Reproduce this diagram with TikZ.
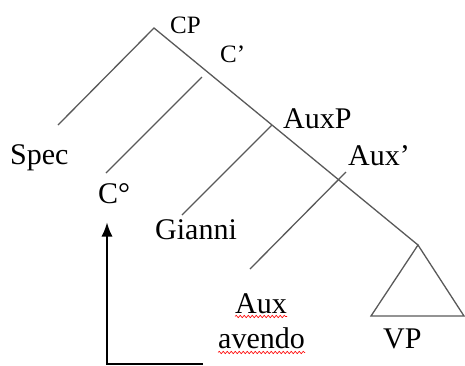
\documentclass[tikz,border=0pt]{standalone}
\usepackage{fontspec}
\setmainfont{Liberation Serif}
\usetikzlibrary{arrows.meta,decorations.pathmorphing}
\begin{document}
\begin{tikzpicture}[x=1pt,y=-1pt,
    branch/.style={color=black!65, line width=1.3pt},
    lbl/.style={anchor=base west, inner sep=0pt, font=\fontsize{30}{34}\selectfont},
    smalllbl/.style={lbl, font=\fontsize{25}{29}\selectfont},
    squiggle/.style={color=red, line width=0.6pt, decorate,
        decoration={snake, amplitude=1.2pt, segment length=4pt}}]
    \useasboundingbox (0,0) rectangle (465,365);
    % tree points
    \coordinate (cp) at (154,28);
    \coordinate (specend) at (58,125);
    \coordinate (cbartop) at (202,77);
    \coordinate (cbarend) at (106,173);
    \coordinate (auxp) at (272,125);
    \coordinate (gianniend) at (182,215);
    \coordinate (auxbartop) at (346,172);
    \coordinate (auxend) at (250,269);
    \coordinate (vptop) at (418,245);
    \coordinate (vpleft) at (371,316);
    \coordinate (vpright) at (464,316);
    \coordinate (arrowtail) at (203,364);
    \coordinate (arrowbend) at (107,364);
    % labels
    \node[smalllbl] (cplbl) at (170,33) {CP};
    \node[smalllbl] (cbarlbl) at (220,62) {C’};
    \node[lbl] (speclbl) at (10,164) {Spec};
    \node[lbl] (auxplbl) at (283,128) {AuxP};
    \node[lbl] (auxbarlbl) at (348,165) {Aux’};
    \node[lbl] (clbl) at (98,203) {C°};
    \node[lbl] (giannilbl) at (155,239) {Gianni};
    \node[lbl] (auxlbl) at (235,313) {Aux};
    \node[lbl] (avendolbl) at (218,348) {avendo};
    \node[lbl] (vplbl) at (383,348) {VP};
    % branches
    \draw[branch] (specend) -- (cp) -- (vptop);
    \draw[branch] (cbartop) -- (cbarend);
    \draw[branch] (auxp) -- (gianniend);
    \draw[branch] (auxbartop) -- (auxend);
    \draw[branch] (vptop) -- (vpleft) -- (vpright) -- cycle;
    % movement arrow
    \draw[line width=1.4pt, -{Latex[length=14pt,width=11pt]}] (arrowtail) -- (arrowbend) -- ([yshift=-19pt]clbl.south -| arrowbend);
    % spell-check marks
    \draw[squiggle] ([yshift=-3pt]auxlbl.south west) -- ([yshift=-3pt]auxlbl.south east);
    \draw[squiggle] ([yshift=-4pt]avendolbl.south west) -- ([yshift=-4pt]avendolbl.south east);
\end{tikzpicture}
\end{document}
